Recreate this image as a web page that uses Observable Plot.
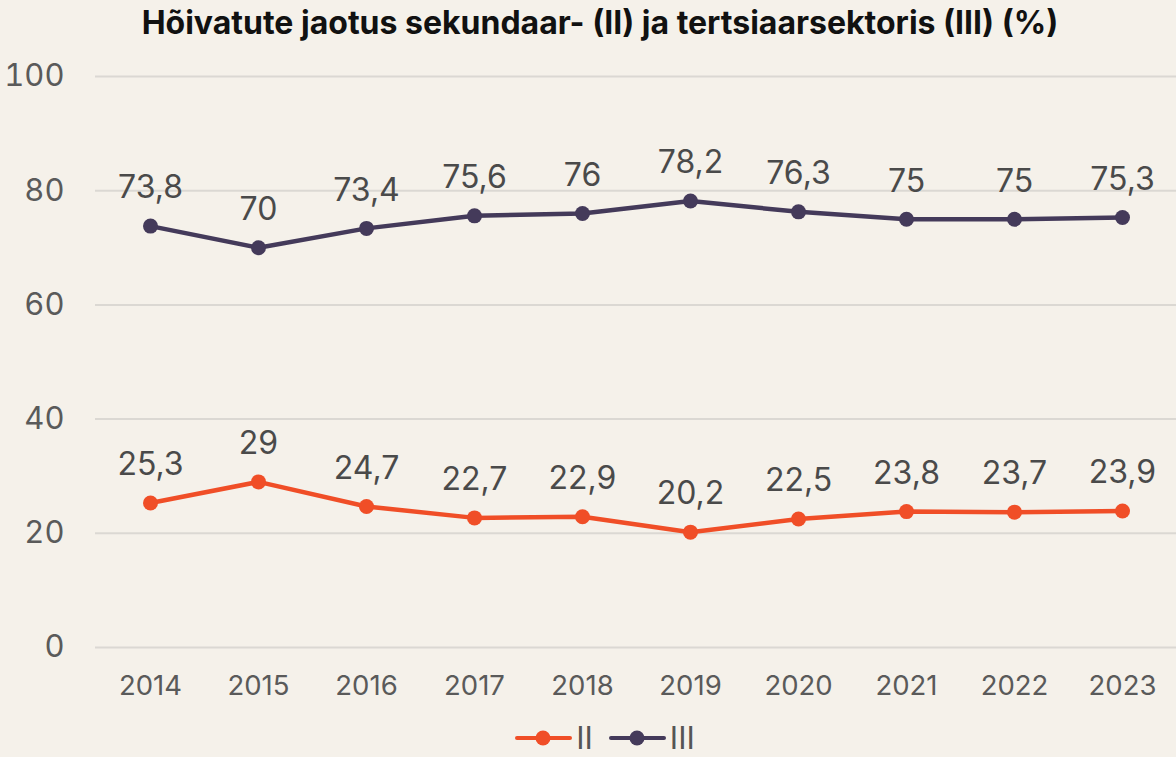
<!DOCTYPE html>
<html><head><meta charset="utf-8">
<script src="https://cdn.jsdelivr.net/npm/d3@7"></script>
<script src="https://cdn.jsdelivr.net/npm/@observablehq/plot@0.6"></script>
<style>
html,body{margin:0;padding:0;background:#f5f1ea;}
body{width:1176px;height:757px;overflow:hidden;font-family:Inter,"Noto Sans",sans-serif;}
#title{height:48px;line-height:46px;text-align:center;font-weight:700;font-size:32px;color:#111;padding-left:24px;box-sizing:border-box;width:1176px}
#legend{display:flex;justify-content:center;align-items:center;gap:16px;height:39px;font-size:31px;color:#555;margin-left:34px}
.item{display:flex;align-items:center;gap:4px}
</style></head>
<body>
<div id="title">Hõivatute jaotus sekundaar- (II) ja tertsiaarsektoris (III) (%)</div>
<div id="chart"></div>
<div id="legend"></div>
<script>
const years = [2014,2015,2016,2017,2018,2019,2020,2021,2022,2023];
const seriesII = [25.3,29,24.7,22.7,22.9,20.2,22.5,23.8,23.7,23.9];
const seriesIII = [73.8,70,73.4,75.6,76,78.2,76.3,75,75,75.3];
const seriesNames = ["II","III"];
const seriesColors = ["#f04e27","#443a5a"];
const yTicks = [0,20,40,60,80,100];

const data = [];
years.forEach((y,i)=>{
  data.push({year:y, value:seriesII[i], series:"II"});
  data.push({year:y, value:seriesIII[i], series:"III"});
});
const fmt = v => String(v).replace(".", ",");

const plot = Plot.plot({
  width:1176, height:670,
  marginTop:28, marginBottom:71, marginLeft:95, marginRight:0,
  style:{background:"transparent", fontFamily:"Inter, 'Noto Sans', sans-serif"},
  x:{type:"point", domain:years, padding:0.5},
  y:{domain:[0,100]},
  color:{domain:seriesNames, range:seriesColors},
  marks:[
    Plot.ruleY(yTicks,{stroke:"#dbd8d3", strokeWidth:2}),
    Plot.axisY({ticks:yTicks, tickSize:0, tickPadding:31, fontSize:31, fill:"#5a5a5a", label:null}),
    Plot.axisX({tickSize:0, tickPadding:28, fontSize:27.5, fill:"#5a5a5a", label:null, tickFormat:d=>String(d)}),
    Plot.line(data,{x:"year", y:"value", stroke:"series", strokeWidth:4.5}),
    Plot.dot(data,{x:"year", y:"value", fill:"series", r:7.5}),
    Plot.text(data,{x:"year", y:"value", text:d=>fmt(d.value), dy:-38, fontSize:32, fill:"#4a4a4a"})
  ]
});
document.getElementById("chart").appendChild(plot);

const leg = document.getElementById("legend");
seriesNames.forEach((n,i)=>{
  const it = document.createElement("div"); it.className="item";
  it.innerHTML = `<svg width="57" height="16"><line x1="2" x2="55" y1="8" y2="8" stroke="${seriesColors[i]}" stroke-width="4" stroke-linecap="round"/><circle cx="28" cy="8" r="7.5" fill="${seriesColors[i]}"/></svg><span>${n}</span>`;
  leg.appendChild(it);
});
</script>
</body></html>
